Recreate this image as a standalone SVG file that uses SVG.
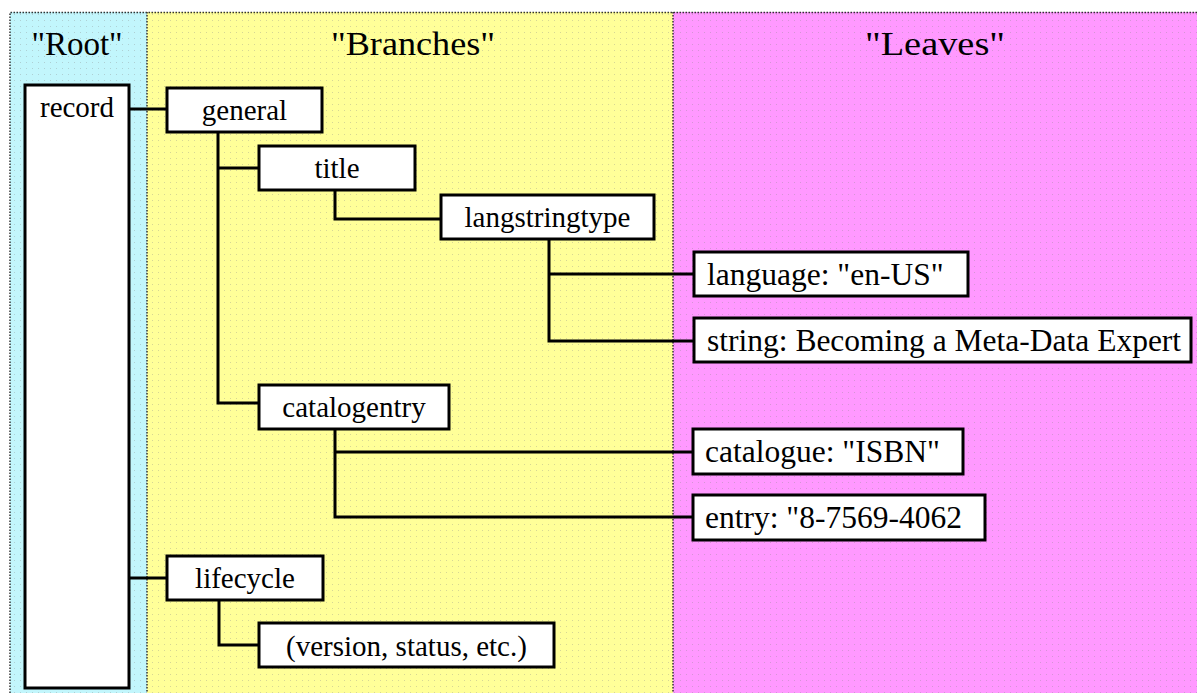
<svg xmlns="http://www.w3.org/2000/svg" width="1197" height="693" viewBox="0 0 1197 693">
<defs>
<pattern id="dots" width="6" height="6" patternUnits="userSpaceOnUse">
<rect x="2" y="2" width="1" height="1" fill="#888" fill-opacity="0.35"/>
</pattern>
<style>
.box{fill:#fff;stroke:#000;stroke-width:3}
.t{font-family:'Liberation Serif','DejaVu Serif',serif;font-size:29px;fill:#000}
.lf{font-size:31.5px}
.c{text-anchor:middle}
.h{font-family:'Liberation Serif','DejaVu Serif',serif;font-size:33px;fill:#000;text-anchor:middle}
.ln{fill:none;stroke:#000;stroke-width:3}
.div{stroke:#333;stroke-width:1.5;stroke-dasharray:1.5 1.5;fill:none}
</style>
</defs>
<rect width="1197" height="693" fill="#fff"/>
<g id="panels">
<rect x="10" y="12" width="137" height="681" fill="#c2f6fc"/>
<rect x="147" y="12" width="526" height="681" fill="#ffff99"/>
<rect x="673" y="12" width="524" height="681" fill="#ff99ff"/>
<rect x="10" y="12" width="1187" height="681" fill="url(#dots)"/>
<path class="div" d="M10,693 V12.5 H1197 M147,12 V693 M673,12 V693"/>
<text class="h" x="77" y="55">"Root"</text>
<text class="h" x="413" y="55" textLength="164" lengthAdjust="spacingAndGlyphs">"Branches"</text>
<text class="h" x="935" y="55" textLength="140" lengthAdjust="spacingAndGlyphs">"Leaves"</text>
</g>
<g id="connectors">
<path class="ln" d="M129,109 H167"/>
<path class="ln" d="M218,132 V403 H259" stroke-width="4"/>
<path class="ln" d="M218,168 H259"/>
<path class="ln" d="M335,190 V219 H441"/>
<path class="ln" d="M549,239 V341 H694"/>
<path class="ln" d="M549,274 H694"/>
<path class="ln" d="M335,429 V517 H693"/>
<path class="ln" d="M335,452 H693"/>
<path class="ln" d="M129,578 H167"/>
<path class="ln" d="M219,600 V645 H259" stroke-width="4"/>
</g>
<g id="record"><rect class="box" x="25" y="85" width="104" height="603"/><text class="t c" x="77" y="117" font-size="30">record</text></g>
<g id="general"><rect class="box" x="167" y="88" width="155" height="44"/><text class="t c" x="244.5" y="120">general</text></g>
<g id="title"><rect class="box" x="259" y="146" width="156" height="44"/><text class="t c" x="337" y="178">title</text></g>
<g id="langstringtype"><rect class="box" x="441" y="195" width="213" height="44"/><text class="t c" x="547.5" y="227">langstringtype</text></g>
<g id="language"><rect class="box" x="694" y="252" width="274" height="44"/><text class="t lf" x="707" y="285">language: "en-US"</text></g>
<g id="string"><rect class="box" x="694" y="318" width="497" height="44"/><text class="t lf" x="707" y="351">string: Becoming a Meta-Data Expert</text></g>
<g id="catalogentry"><rect class="box" x="259" y="385" width="190" height="44"/><text class="t c" x="354" y="417">catalogentry</text></g>
<g id="catalogue"><rect class="box" x="693" y="429" width="270" height="45"/><text class="t lf" x="705" y="462">catalogue: "ISBN"</text></g>
<g id="entry"><rect class="box" x="693" y="495" width="292" height="45"/><text class="t lf" x="705" y="528">entry: "8-7569-4062</text></g>
<g id="lifecycle"><rect class="box" x="167" y="556" width="156" height="44"/><text class="t c" x="245" y="588">lifecycle</text></g>
<g id="version"><rect class="box" x="259" y="623" width="295" height="44"/><text class="t c" x="406.5" y="656" font-size="31">(version, status, etc.)</text></g>
</svg>
